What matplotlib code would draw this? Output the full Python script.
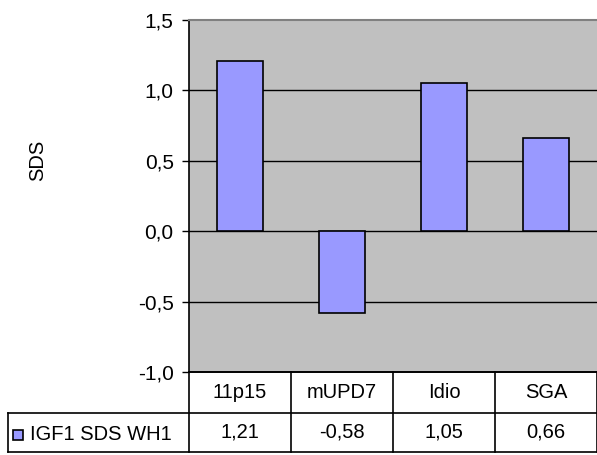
import matplotlib
matplotlib.use("Agg")
import matplotlib.pyplot as plt
from matplotlib.transforms import blended_transform_factory
from matplotlib.patches import Rectangle
from matplotlib.lines import Line2D

categories = ["11p15", "mUPD7", "Idio", "SGA"]
values = [1.21, -0.58, 1.05, 0.66]
series_name = "IGF1 SDS WH1"
y_ticks = [-1.0, -0.5, 0.0, 0.5, 1.0, 1.5]

BAR_COLOR = "#9999FF"
BG = "#C0C0C0"
W, H = 597, 455

plt.rcParams["font.family"] = ["Liberation Sans", "DejaVu Sans"]
plt.rcParams["font.size"] = 14.5

fig = plt.figure(figsize=(W / 100, H / 100), dpi=100)
# plot area in pixel coords: left 189, right 597, top 20, bottom 372
ax = fig.add_axes([189 / W, (H - 372) / H, 408 / W, 352 / H])
ax.set_facecolor(BG)

n = len(categories)
x = list(range(n))
ax.bar(x, values, width=0.45, color=BAR_COLOR, edgecolor="black", linewidth=1.2, zorder=3)

ax.set_xlim(-0.5, n - 0.5)
ax.set_ylim(y_ticks[0], y_ticks[-1])
ax.set_yticks(y_ticks)
ax.set_yticklabels([f"{t:.1f}".replace(".", ",") for t in y_ticks])
ax.set_xticks([])
ax.tick_params(axis="y", direction="out", length=5, width=1, color="black",
               pad=6, labelsize=15)
for t in y_ticks[1:-1]:
    ax.axhline(t, color="black", linewidth=1, zorder=2)

ax.spines["right"].set_visible(False)
ax.spines["top"].set_color("#808080")
ax.spines["top"].set_linewidth(1.5)
ax.spines["left"].set_linewidth(1.2)
ax.spines["bottom"].set_linewidth(1.2)

fig.text(38 / W, (H - 160) / H, "SDS", rotation=90, ha="center", va="center")

# data table below the plot area
trans = blended_transform_factory(ax.transData, ax.transAxes)
row1 = -41 / 352
row2 = -80 / 352
left_x = (8 - 189) / 102 - 0.5
right_x = n - 0.5
lw = 1.2

def hline(x0, x1, y):
    ax.add_line(Line2D([x0, x1], [y, y], transform=trans, color="black",
                       linewidth=lw, clip_on=False))

def vline(xv, y0, y1):
    ax.add_line(Line2D([xv, xv], [y0, y1], transform=trans, color="black",
                       linewidth=lw, clip_on=False))

hline(-0.5, right_x, 0)
hline(left_x, right_x, row1)
hline(left_x, right_x, row2)
vline(left_x, row1, row2)
for i in range(n + 1):
    vline(i - 0.5, 0, row2)

for i, (cat, val) in enumerate(zip(categories, values)):
    ax.text(i, row1 / 2, cat, transform=trans, ha="center", va="center")
    ax.text(i, (row1 + row2) / 2, f"{val:.2f}".replace(".", ","),
            transform=trans, ha="center", va="center")

# legend key inside the first cell
fig.patches.append(Rectangle((13 / W, (H - 440) / H), 10 / W, 10 / H,
                             transform=fig.transFigure, facecolor=BAR_COLOR,
                             edgecolor="black", linewidth=1.2))
fig.text(30 / W, (H - 434) / H, series_name, ha="left", va="center")

fig.savefig("out.png", dpi=100)
